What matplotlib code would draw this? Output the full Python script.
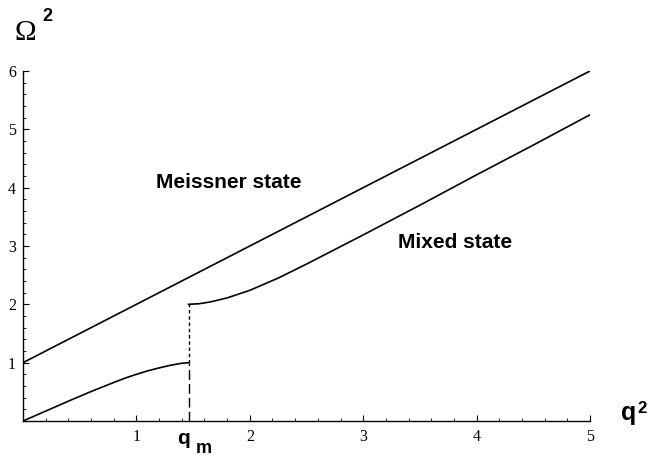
import numpy as np
import matplotlib.pyplot as plt
from matplotlib.ticker import MultipleLocator, FixedLocator

# values
q_m = 1.46

meissner_q = [0, 5]
meissner_w = [1, 6]

lower_q = [0, 0.2, 0.4, 0.6, 0.8, 0.9, 1.0, 1.1, 1.2, 1.3, 1.4, 1.46]
lower_w = [0, 0.17, 0.34, 0.505, 0.66, 0.735, 0.80, 0.86, 0.91, 0.955, 0.99, 1.0]

upper_q = [1.46, 1.55, 1.65, 1.8, 2.0, 2.25, 2.5, 2.75, 3.0, 3.5, 4.0, 4.5, 5.0]
upper_w = [2.0, 2.01, 2.04, 2.11, 2.24, 2.45, 2.69, 2.94, 3.19, 3.70, 4.22, 4.73, 5.25]

x_ticks = [1, 2, 3, 4, 5]
y_ticks = [1, 2, 3, 4, 5, 6]

W, H = 667, 457
fig = plt.figure(figsize=(W / 100, H / 100), dpi=100)
ax = fig.add_axes([23 / W, 1 - 421 / H, (590 - 23) / W, (421 - 71) / H])

lw = 1.2
for xs, ys in [(meissner_q, meissner_w), (lower_q, lower_w), (upper_q, upper_w)]:
    ax.plot(xs, ys, color='black', lw=lw, solid_joinstyle='round')
# jump at q_m: long dashes below, short dashes above
ax.plot([q_m, q_m], [0, 1], color='black', lw=1.0, dashes=(7, 3))
ax.plot([q_m, q_m], [1, 2], color='black', lw=1.0, dashes=(2.5, 2))

ax.set_xlim(0, 5)
ax.set_ylim(0, 6)
ax.spines['top'].set_visible(False)
ax.spines['right'].set_visible(False)
ax.spines['left'].set_linewidth(1.0)
ax.spines['bottom'].set_linewidth(1.0)

ax.xaxis.set_major_locator(FixedLocator(x_ticks))
ax.yaxis.set_major_locator(FixedLocator(y_ticks))
ax.xaxis.set_minor_locator(MultipleLocator(0.2))
ax.yaxis.set_minor_locator(MultipleLocator(0.2))
ax.tick_params(which='major', direction='in', length=4, width=0.8,
               labelsize=11.5, pad=6)
ax.tick_params(which='minor', direction='in', length=2, width=0.6)
for lab in ax.get_xticklabels() + ax.get_yticklabels():
    lab.set_fontfamily('Liberation Serif')
ax.tick_params(axis='y', pad=5)

bold = dict(family='Liberation Sans', weight='bold', color='black')
ax.text(1.17, 4.0, 'Meissner state', fontsize=15, va='baseline', **bold)
ax.text(3.31, 2.97, 'Mixed state', fontsize=15, va='baseline', **bold)

def ftext(x, y, s, **kw):
    fig.text(x / W, 1 - y / H, s, **kw)

ftext(14, 40, '\u03a9', family='Liberation Serif', fontsize=21, va='baseline')
ftext(42, 21, '2', fontsize=13, va='baseline', **bold)
ftext(621, 420, 'q', fontsize=18, va='baseline', **bold)
ftext(637, 413, '2', fontsize=12, va='baseline', **bold)
ftext(177, 444, 'q', fontsize=15, va='baseline', **bold)
ftext(196, 453, 'm', fontsize=13, va='baseline', **bold)

fig.savefig('out.png', dpi=100)
